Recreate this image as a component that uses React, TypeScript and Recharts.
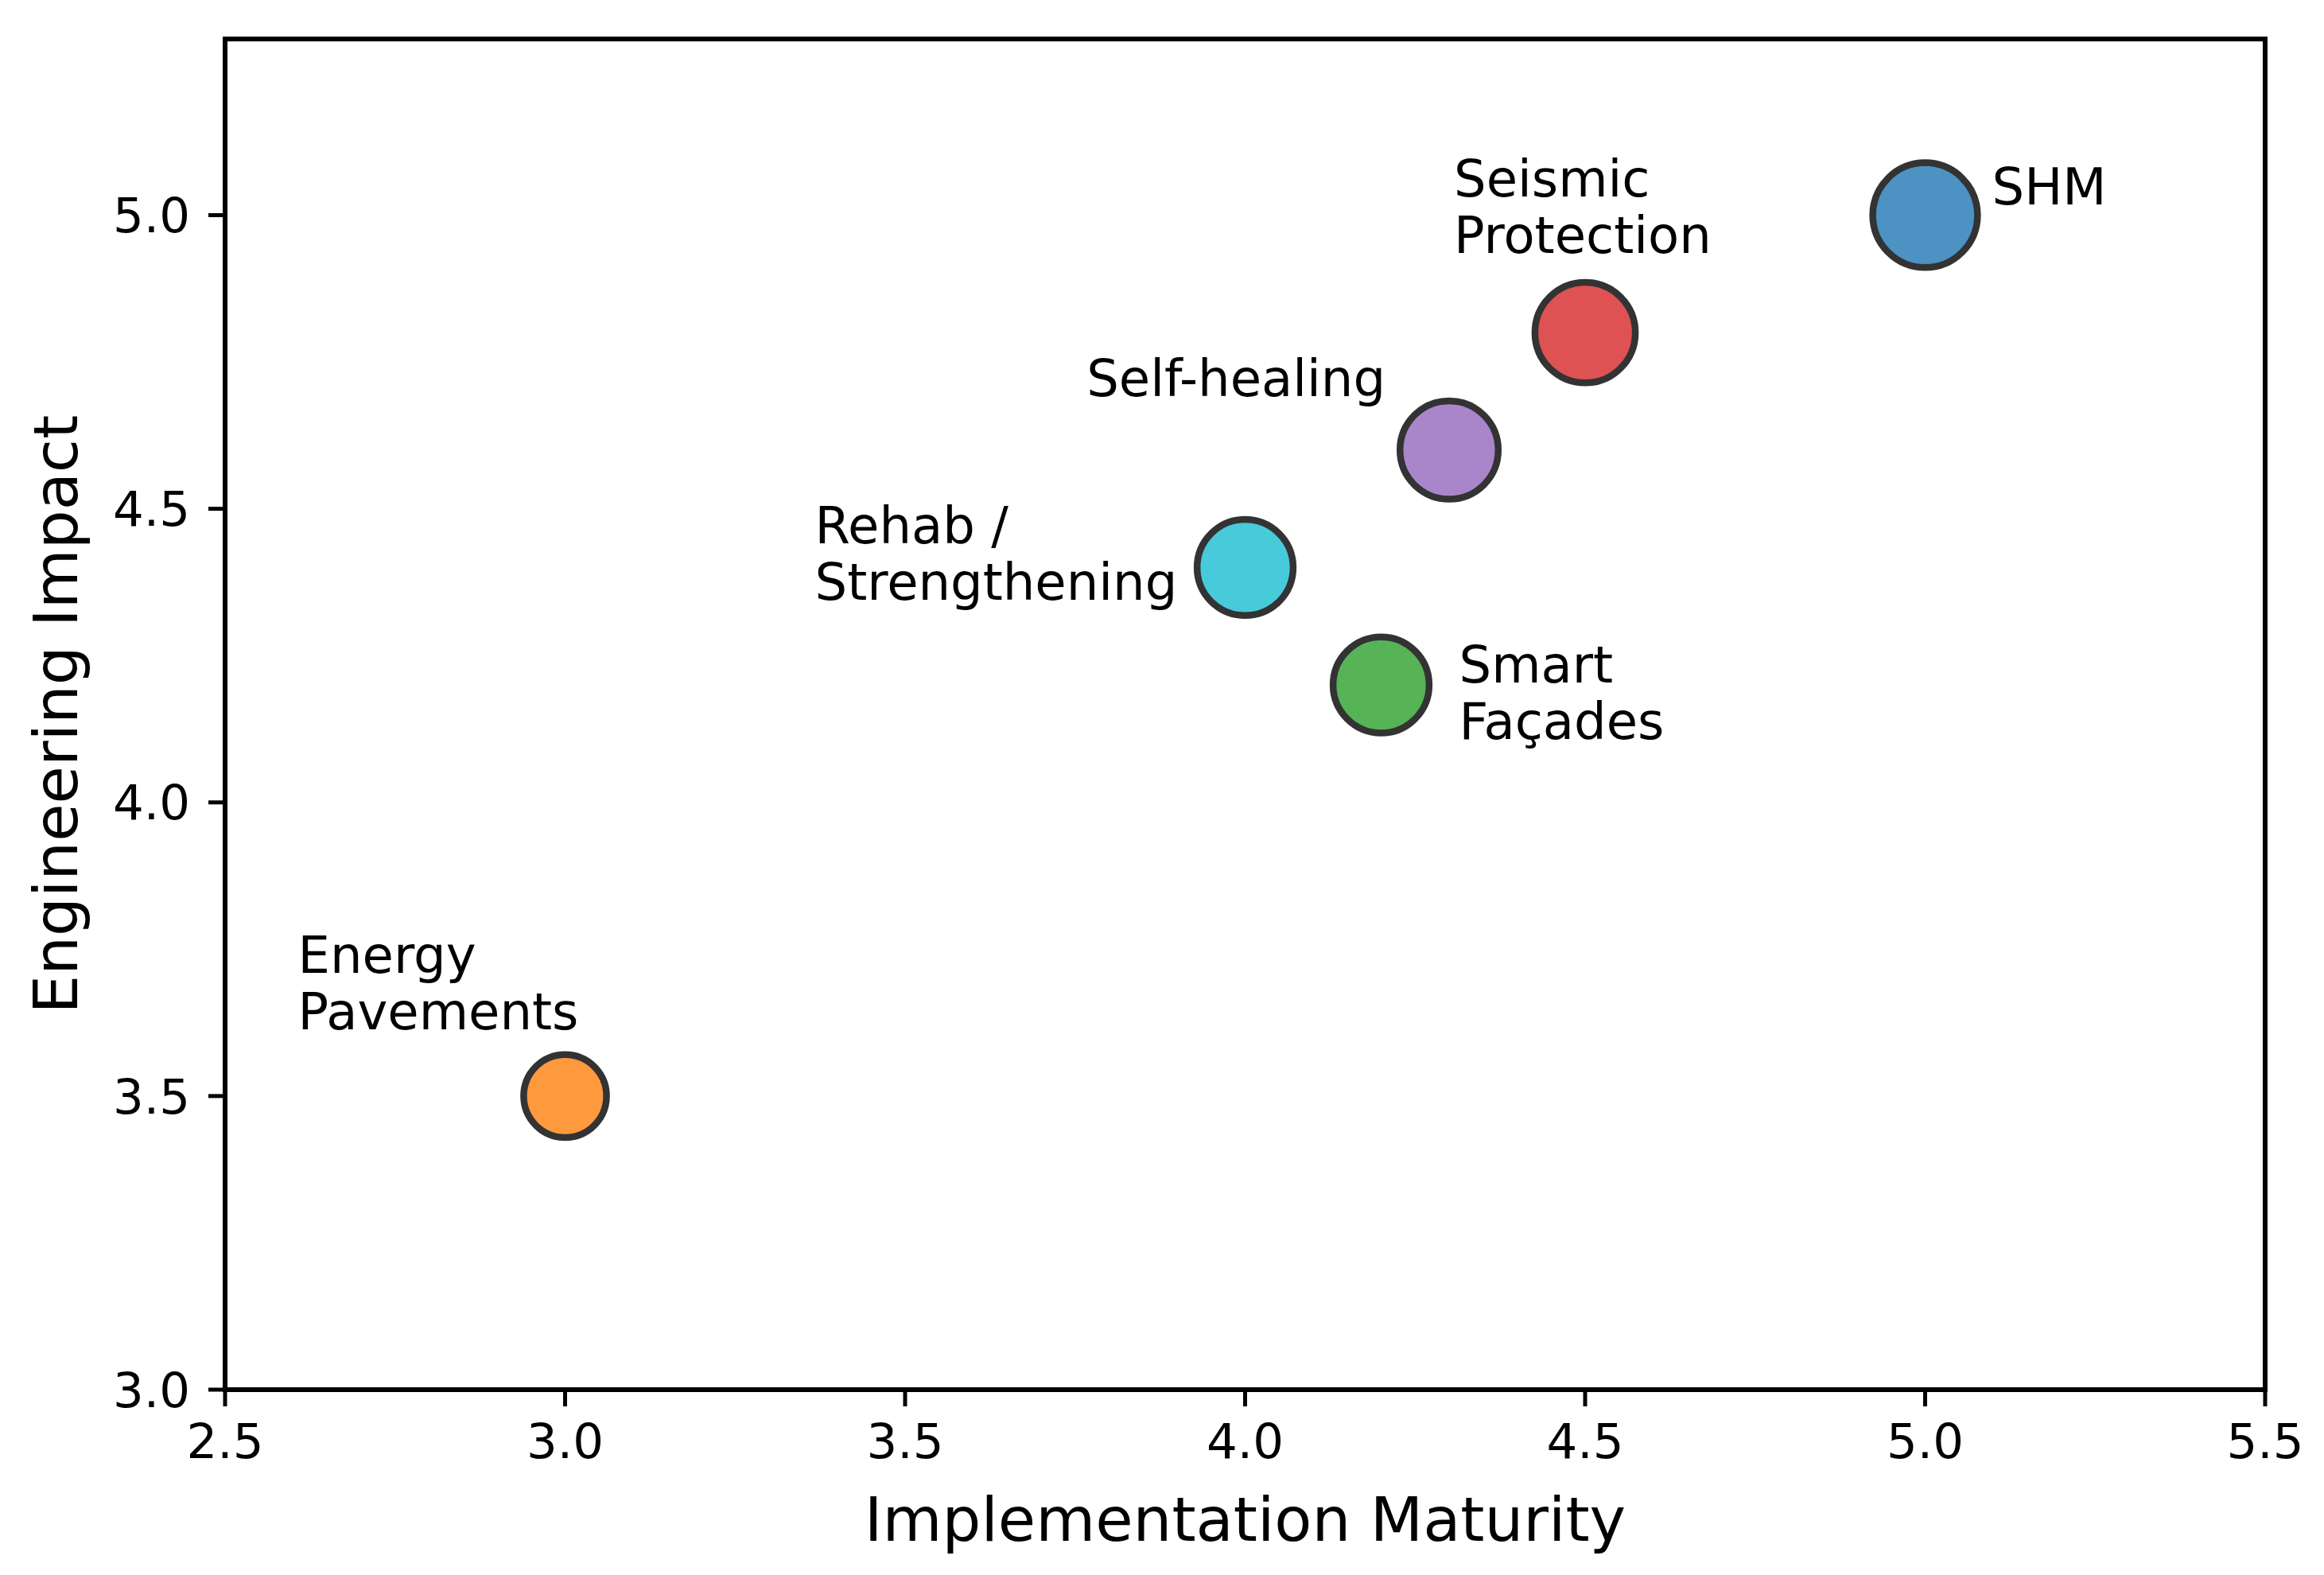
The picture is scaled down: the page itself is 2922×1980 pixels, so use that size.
import React from 'react';
import {
  ScatterChart,
  Scatter,
  XAxis,
  YAxis,
  ZAxis,
  ReferenceArea,
} from 'recharts';

// ---------- data ----------
const CATEGORIES = [
  'SHM',
  'Seismic Protection',
  'Self-healing',
  'Rehab / Strengthening',
  'Smart Façades',
  'Energy Pavements',
];
const MATURITY = [5.0, 4.5, 4.3, 4.0, 4.2, 3.0];
const IMPACT = [5.0, 4.8, 4.6, 4.4, 4.2, 3.5];
const BUBBLE = [1160, 1065, 1020, 975, 975, 725];
const LABEL_LINES = [
  ['SHM'],
  ['Seismic', 'Protection'],
  ['Self-healing'],
  ['Rehab /', 'Strengthening'],
  ['Smart', 'Façades'],
  ['Energy', 'Pavements'],
];
const X_TICKS = [2.5, 3.0, 3.5, 4.0, 4.5, 5.0, 5.5];
const Y_TICKS = [3.0, 3.5, 4.0, 4.5, 5.0];

// ---------- style ----------
const COLORS = ['#4c92c3', '#de5253', '#a986c9', '#47cad9', '#56b356', '#ff993e'];
const LABEL_LAYOUT = [
  { dx: 84, dy: -13, anchor: 'start' },
  { dx: -165, dy: -171, anchor: 'start' },
  { dx: -80, dy: -68, anchor: 'end' },
  { dx: -541, dy: -30, anchor: 'start' },
  { dx: 98, dy: -3, anchor: 'start' },
  { dx: -336, dy: -155, anchor: 'start' },
];
const FONT = "'DejaVu Sans', sans-serif";
const LINE_H = 71;

const data = CATEGORIES.map((name, i) => ({
  name,
  x: MATURITY[i],
  y: IMPACT[i],
  z: BUBBLE[i],
}));

const Bubble = (props: any) => {
  const { cx, cy, payload, width } = props;
  if (cx == null || cy == null) return null;
  const i = CATEGORIES.indexOf(payload.name);
  const r = (width || 140) / 2;
  const lay = LABEL_LAYOUT[i];
  return (
    <g>
      <circle cx={cx} cy={cy} r={r} fill={COLORS[i]} stroke="#333333" strokeWidth={8.5} />
      <text
        x={cx + lay.dx}
        y={cy + lay.dy}
        textAnchor={lay.anchor as any}
        fontFamily={FONT}
        fontSize={64}
        fill="#000"
      >
        {LABEL_LINES[i].map((ln, k) => (
          <tspan key={k} x={cx + lay.dx} dy={k === 0 ? 0 : LINE_H}>
            {ln}
          </tspan>
        ))}
      </text>
    </g>
  );
};

const XTitle = (props: any) => {
  const vb = props.viewBox || { x: 283, y: 1747, width: 2565, height: 233 };
  return (
    <text
      x={vb.x + vb.width / 2}
      y={vb.y + 190}
      textAnchor="middle"
      fontFamily={FONT}
      fontSize={77}
      fill="#000"
    >
      Implementation Maturity
    </text>
  );
};

const YTitle = (props: any) => {
  const vb = props.viewBox || { x: 0, y: 49, width: 283, height: 1698 };
  const x = vb.x + 97;
  const y = vb.y + vb.height / 2;
  return (
    <text
      x={x}
      y={y}
      transform={`rotate(-90, ${x}, ${y})`}
      textAnchor="middle"
      fontFamily={FONT}
      fontSize={77}
      fill="#000"
    >
      Engineering Impact
    </text>
  );
};

const tickStyle = { fontFamily: FONT, fontSize: 61, fill: '#000' };

export default function App() {
  return (
    <div style={{ position: 'absolute', left: 0, top: 0, background: '#fff' }}>
      <ScatterChart
        width={2922}
        height={1980}
        margin={{ top: 49, right: 74, left: 0, bottom: 0 }}
      >
        <XAxis
          type="number"
          dataKey="x"
          domain={[2.5, 5.5]}
          ticks={X_TICKS}
          interval={0}
          allowDataOverflow
          tickFormatter={(v: number) => v.toFixed(1)}
          tick={tickStyle}
          tickSize={21}
          tickMargin={22}
          tickLine={{ stroke: '#000', strokeWidth: 5 }}
          axisLine={false}
          height={233}
          label={<XTitle />}
        />
        <YAxis
          type="number"
          dataKey="y"
          domain={[3.0, 5.3]}
          ticks={Y_TICKS}
          interval={0}
          allowDataOverflow
          tickFormatter={(v: number) => v.toFixed(1)}
          tick={tickStyle}
          tickSize={21}
          tickMargin={23}
          tickLine={{ stroke: '#000', strokeWidth: 5 }}
          axisLine={false}
          width={283}
          label={<YTitle />}
        />
        <ZAxis type="number" dataKey="z" domain={[0, 1000]} range={[0, 13635]} />
        <Scatter data={data} shape={<Bubble />} isAnimationActive={false} />
        <ReferenceArea
          x1={2.5}
          x2={5.5}
          y1={3.0}
          y2={5.3}
          fill="none"
          fillOpacity={0}
          stroke="#000"
          strokeWidth={6}
          ifOverflow="visible"
        />
      </ScatterChart>
    </div>
  );
}
